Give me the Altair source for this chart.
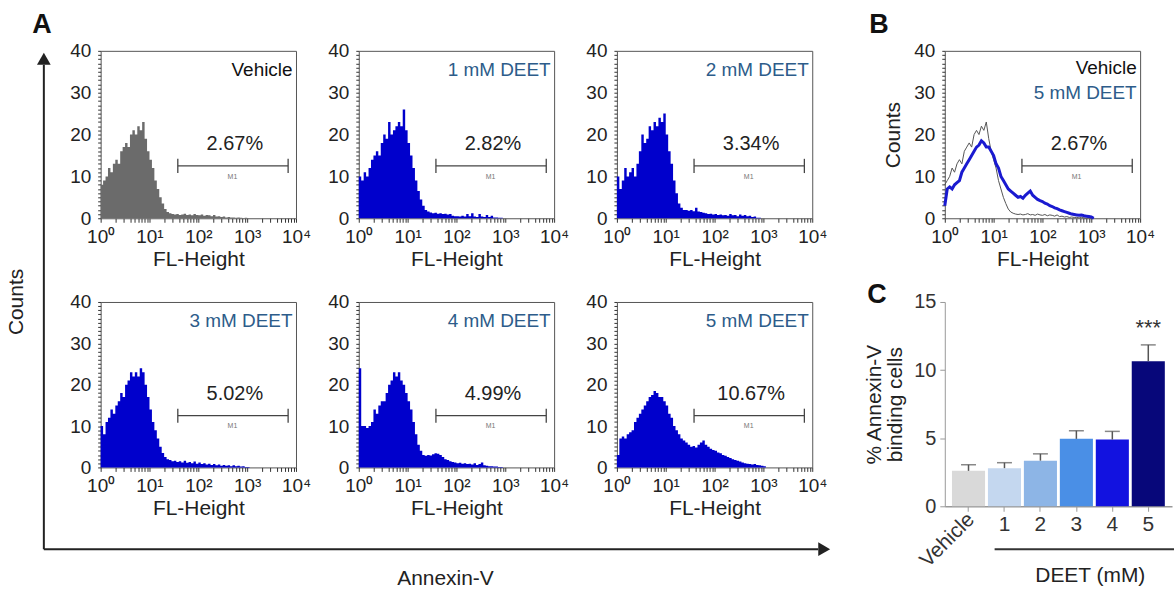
import altair as alt
import pandas as pd

FONT = "Liberation Sans"

# ---------------- data ----------------
# histogram bin positions (log10 of FL-Height), 0.05-decade bins
log_pos = [round(0.05 * i, 2) for i in range(62)]

veh = [8, 9, 10, 12, 11, 13, 14, 13, 16, 17,
       18, 17, 20, 21, 20, 22, 21, 23, 19, 16,
       14, 12, 9, 7, 5, 3.5, 2.2, 1.5, 1.2, 1.0,
       0.9, 1.0, 0.8, 0.9, 1.1, 0.8, 0.9, 0.7, 1.0, 0.8,
       0.7, 0.9, 0.6, 0.8, 0.7, 0.5, 0.8, 0.4, 0.5, 0.3,
       0.4, 0.2, 0.3, 0.2, 0.2, 0.1, 0.2, 0.1, 0, 0.1, 0, 0]
d1 = [10, 9, 11, 10, 12, 14, 15, 16, 15, 18,
      20, 19, 23, 20, 21, 22, 23, 22, 26, 21,
      18, 15, 12, 9, 6.5, 4.5, 3, 2, 1.6, 1.4,
      1.2, 1.3, 1.1, 1.2, 1.0, 1.1, 0.9, 1.0, 0.6, 0.5,
      0.5, 0.4, 0.6, 0.4, 1.0, 0.5, 1.2, 0.4, 0.3, 1.0,
      0.4, 0.3, 0.8, 0.3, 0.6, 0.2, 0.2, 0.1, 0.1, 0, 0, 0]
d2 = [10, 7, 9, 12, 10, 11, 12, 10, 13, 16,
      20, 18, 19, 22, 21, 23, 22, 24, 23, 25,
      20, 16, 13, 9, 6, 3.5, 2.5, 2, 2, 1.8,
      2, 1.7, 2.5, 1.6, 1.5, 1.3, 1.2, 1.0, 1.1, 0.9,
      1.0, 0.8, 0.9, 0.7, 0.8, 0.6, 1.0, 0.7, 0.8, 0.5,
      0.9, 0.6, 0.8, 0.5, 0.6, 0.3, 0.4, 0.1, 0.1, 0, 0, 0]
d3 = [10, 8, 11, 12, 14, 13, 15, 16, 18, 17,
      20, 21, 23, 22, 23, 22, 24, 23, 20, 17,
      14, 11, 9, 7, 5, 3.5, 2.5, 2, 1.8, 1.5,
      1.6, 1.3, 1.5, 1.2, 1.6, 1.1, 1.3, 1.0, 1.4, 0.9,
      1.2, 0.8, 1.0, 0.7, 0.9, 0.6, 0.8, 0.5, 0.7, 0.4,
      0.6, 0.4, 0.5, 0.3, 0.5, 0.3, 0.4, 0.2, 0.3, 0.1, 0.1, 0]
d4 = [24, 10, 10, 9.5, 10, 11, 14, 13, 15, 16,
      16, 18, 20, 21, 23, 22, 23, 21, 20, 18,
      16, 14, 11, 8, 5.5, 4, 3, 2.8, 3, 2.9,
      3.2, 3.4, 3.3, 3, 2.5, 2, 1.8, 1.5, 1.3, 1.2,
      1.0, 1.1, 0.9, 1.0, 0.8, 0.9, 0.7, 1.0, 0.6, 0.8,
      1.2, 0.5, 0.4, 0.3, 0.3, 0.2, 0.2, 0.1, 0.1, 0, 0, 0]
d5 = [3, 7, 7.5, 7, 8, 8.5, 9, 11, 12, 13,
      14, 15, 16, 17, 17.5, 18.5, 18, 17, 17, 16,
      15, 13, 12, 10, 9, 8, 7, 6.5, 6, 5.5,
      5, 5.2, 4.8, 5.5, 6, 6.5, 5.5, 5, 4.5, 4.2,
      4, 3.6, 3.4, 3, 2.8, 2.5, 2.3, 2, 1.8, 1.6,
      1.4, 1.2, 1.0, 0.9, 0.8, 0.7, 0.8, 0.6, 0.5, 0.4, 0.3, 0]

panel_labels = ["Vehicle", "1 mM DEET", "2 mM DEET", "3 mM DEET", "4 mM DEET", "5 mM DEET"]
panel_pcts = ["2.67%", "2.82%", "3.34%", "5.02%", "4.99%", "10.67%"]
b_pct = "2.67%"

bar_cats = ["Vehicle", "1", "2", "3", "4", "5"]
bar_means = [2.6, 2.8, 3.35, 4.95, 4.9, 10.65]
bar_errs = [0.45, 0.4, 0.5, 0.6, 0.6, 1.2]
bar_colors = ["#d9d9d9", "#c4d7ef", "#8db5e6", "#4a8fe6", "#1212e0", "#07077a"]

# gate marker (data coordinates)
GATE_LO, GATE_HI, GATE_Y = 38, 6900, 12.5
PCT_X, PCT_Y = 560, 17.8
LAB_X, LAB_Y = 8500, 35.5

GRAY = "#6b6b6b"
BLUE = "#0000cc"
LABBLUE = "#2d5c8a"

# ---------------- scales / axes ----------------
XT = [m * 10 ** e for e in range(4) for m in range(1, 10)] + [10000]
SUP = ("datum.value == 1 ? '10\u2070' : datum.value == 10 ? '10\u00b9' : "
       "datum.value == 100 ? '10\u00b2' : datum.value == 1000 ? '10\u00b3' : "
       "datum.value == 10000 ? '10\u2074' : ''")
xs = alt.Scale(type="log", domain=[1, 10000], nice=False)
ys = alt.Scale(domain=[0, 40], nice=False)

HW, HH1, HH2 = 196, 168, 166

XAX = alt.Axis(values=XT, labelExpr=SUP, title="FL-Height", labelFontSize=19,
               titleFontSize=21, tickSize=4, labelOverlap=False, labelFlush=False,
               grid=False, domain=False, titlePadding=2, labelPadding=5,
               tickColor="#333")
_ykw = dict(values=list(range(0, 41, 1)),
            labelExpr="datum.value % 10 == 0 ? datum.label : ''",
            tickSize=3, domain=False, grid=False, labelFontSize=19,
            labelOverlap=False, labelPadding=7, tickColor="#333")
YAX = alt.Axis(title=None, **_ykw)
YAX_B = alt.Axis(title="Counts", titleFontSize=21, titlePadding=10, **_ykw)


def one(**kw):
    return pd.DataFrame({k: [v] for k, v in kw.items()})


def gate_layers(pct, yax):
    rule = alt.Chart(one(x=GATE_LO, x2=GATE_HI, y=GATE_Y)).mark_rule(
        color="#444", strokeWidth=1.3).encode(
        x=alt.X("x:Q", scale=xs, axis=XAX), x2="x2:Q",
        y=alt.Y("y:Q", scale=ys, axis=yax))
    edf = pd.DataFrame({"x": [GATE_LO, GATE_HI], "y": [GATE_Y - 1.7] * 2,
                        "y2": [GATE_Y + 1.7] * 2})
    ends = alt.Chart(edf).mark_rule(color="#444", strokeWidth=1.3).encode(
        x=alt.X("x:Q", scale=xs, axis=XAX),
        y=alt.Y("y:Q", scale=ys, axis=yax), y2="y2:Q")
    m1 = alt.Chart(one(x=500, y=GATE_Y - 2.6, t="M1")).mark_text(
        fontSize=7, color="#777").encode(
        x=alt.X("x:Q", scale=xs, axis=XAX), y=alt.Y("y:Q", scale=ys, axis=yax),
        text="t:N")
    pt = alt.Chart(one(x=PCT_X, y=PCT_Y, t=pct)).mark_text(
        fontSize=20, color="#222").encode(
        x=alt.X("x:Q", scale=xs, axis=XAX), y=alt.Y("y:Q", scale=ys, axis=yax),
        text="t:N")
    return [rule, ends, m1, pt]


def label_layer(text, color, y, yax):
    return alt.Chart(one(x=LAB_X, y=y, t=text)).mark_text(
        fontSize=19, color=color, align="right").encode(
        x=alt.X("x:Q", scale=xs, axis=XAX), y=alt.Y("y:Q", scale=ys, axis=yax),
        text="t:N")


def hist_panel(counts, fill, label, lab_color, pct, height, extra=()):
    df = pd.DataFrame({"x": [10 ** t for t in log_pos], "y": counts})
    area = alt.Chart(df).mark_area(color=fill, interpolate="step-after").encode(
        x=alt.X("x:Q", scale=xs, axis=XAX),
        y=alt.Y("y:Q", scale=ys, axis=YAX))
    layers = [area] + gate_layers(pct, YAX) + [label_layer(label, lab_color, LAB_Y, YAX)] + list(extra)
    return alt.layer(*layers).properties(
        width=HW, height=height, view=alt.ViewBackground(stroke="#555", strokeWidth=1))


def pix_text(text, x, y, **kw):
    return alt.Chart(one(t=text)).mark_text(**kw).encode(
        x=alt.value(x), y=alt.value(y), text="t:N")


# panel letters and the big axes of panel A
letter_a = pix_text("A", -59, -26, fontSize=27, fontWeight="bold", color="#111")
arrow_v = alt.Chart(one(a=0)).mark_rule(color="#222", strokeWidth=2).encode(
    x=alt.value(-57), y=alt.value(-238), y2=alt.value(248))
arrow_v_head = alt.Chart(one(a=0)).mark_point(
    shape="triangle-up", filled=True, size=190, color="#222", opacity=1).encode(
    x=alt.value(-57), y=alt.value(-244))
arrow_h = alt.Chart(one(a=0)).mark_rule(color="#222", strokeWidth=2).encode(
    x=alt.value(-57), x2=alt.value(720), y=alt.value(248))
arrow_h_head = alt.Chart(one(a=0)).mark_point(
    shape="triangle-right", filled=True, size=190, color="#222", opacity=1).encode(
    x=alt.value(726), y=alt.value(248))
counts_t = pix_text("Counts", -84, 0, fontSize=21, angle=270, color="#222")
annex_t = pix_text("Annexin-V", 346, 278, fontSize=21, color="#222")

a1 = hist_panel(veh, GRAY, panel_labels[0], "#111", panel_pcts[0], HH1, [letter_a])
a2 = hist_panel(d1, BLUE, panel_labels[1], LABBLUE, panel_pcts[1], HH1)
a3 = hist_panel(d2, BLUE, panel_labels[2], LABBLUE, panel_pcts[2], HH1)
a4 = hist_panel(d3, BLUE, panel_labels[3], LABBLUE, panel_pcts[3], HH2,
                [arrow_v, arrow_v_head, arrow_h, arrow_h_head, counts_t, annex_t])
a5 = hist_panel(d4, BLUE, panel_labels[4], LABBLUE, panel_pcts[4], HH2)
a6 = hist_panel(d5, BLUE, panel_labels[5], LABBLUE, panel_pcts[5], HH2)

# ---------------- panel B ----------------
xvals = [10 ** t for t in log_pos]
bveh = alt.Chart(pd.DataFrame({"x": xvals, "y": veh})).mark_line(
    color="#555", strokeWidth=1).encode(
    x=alt.X("x:Q", scale=xs, axis=XAX),
    y=alt.Y("y:Q", scale=ys, axis=YAX_B))
bd5 = alt.Chart(pd.DataFrame({"x": xvals, "y": d5})).mark_line(
    color="#1a1ad0", strokeWidth=3).encode(
    x=alt.X("x:Q", scale=xs, axis=XAX), y=alt.Y("y:Q", scale=ys, axis=YAX_B))
letter_b = pix_text("B", -66, -26, fontSize=27, fontWeight="bold", color="#111")
b = alt.layer(bveh, bd5, *gate_layers(b_pct, YAX_B),
              label_layer("Vehicle", "#111", 36.0, YAX_B),
              label_layer("5 mM DEET", LABBLUE, 30.0, YAX_B),
              letter_b).properties(
    width=HW, height=HH1, view=alt.ViewBackground(stroke="#555", strokeWidth=1))

# ---------------- panel C ----------------
CW, CH = 228, 205
cdf = pd.DataFrame({"cat": bar_cats, "m": bar_means,
                    "top": [m + e for m, e in zip(bar_means, bar_errs)]})
cx = alt.Scale(domain=bar_cats, paddingInner=0.08, paddingOuter=0.2)
cy = alt.Scale(domain=[0, 15], nice=False)
CXAX = alt.Axis(labels=False, title=None, ticks=True, tickSize=5,
                domainColor="#999", tickColor="#999", domainWidth=1.5)
CYAX = alt.Axis(values=[0, 5, 10, 15], title=["% Annexin-V", "binding cells"],
                titleFontSize=21, labelFontSize=20, grid=False,
                domainColor="#999", tickColor="#999", tickSize=5,
                labelColor="#333", titleColor="#222", titlePadding=8,
                labelPadding=4, titleLineHeight=21)
CX = lambda: alt.X("cat:N", sort=bar_cats, scale=cx, axis=CXAX)
bars = alt.Chart(cdf).mark_bar().encode(
    x=CX(),
    y=alt.Y("m:Q", scale=cy, axis=CYAX),
    color=alt.Color("cat:N", scale=alt.Scale(domain=bar_cats, range=bar_colors), legend=None))
errs = alt.Chart(cdf).mark_rule(color="#555", strokeWidth=1.5).encode(
    x=CX(), y=alt.Y("m:Q", scale=cy, axis=CYAX), y2="top:Q")
caps = alt.Chart(cdf).mark_tick(color="#555", thickness=1.5, size=15).encode(
    x=CX(), y=alt.Y("top:Q", scale=cy, axis=CYAX))
stars = alt.Chart(one(cat="5", y=12.6, t="***")).mark_text(
    fontSize=22, color="#333", baseline="alphabetic").encode(
    x=CX(), y=alt.Y("y:Q", scale=cy, axis=CYAX), text="t:N")
veh_lab = alt.Chart(cdf[cdf.cat == "Vehicle"]).mark_text(
    fontSize=21, color="#333", align="right", baseline="middle", angle=315, dx=4).encode(
    x=CX(), y=alt.value(CH + 13), text="cat:N")
num_lab = alt.Chart(cdf[cdf.cat != "Vehicle"]).mark_text(
    fontSize=21, color="#333", align="center", baseline="middle").encode(
    x=CX(), y=alt.value(CH + 19), text="cat:N")
underline = alt.Chart(one(a=0)).mark_rule(color="#333", strokeWidth=2).encode(
    x=alt.value(50), x2=alt.value(CW + 2), y=alt.value(CH + 43))
deet_t = pix_text("DEET (mM)", 146, CH + 70, fontSize=21, color="#222")
letter_c = pix_text("C", -68, -7, fontSize=27, fontWeight="bold", color="#111")
c = alt.layer(bars, errs, caps, stars, veh_lab, num_lab, underline, deet_t,
              letter_c).properties(width=CW, height=CH)

# spacers
sp1 = alt.Chart(one(a=0)).mark_text(text="").encode(
    x=alt.value(0), y=alt.value(0)).properties(width=7, height=HH1)
sp2 = alt.Chart(one(a=0)).mark_text(text="").encode(
    x=alt.value(0), y=alt.value(0)).properties(width=7, height=HH2)

chart = alt.concat(
    a1, a2, a3, sp1, b,
    a4, a5, a6, sp2, c,
    columns=5, spacing={"row": 84, "column": 63}, bounds="flush",
).properties(
    padding={"left": 5, "top": 9, "right": 0, "bottom": 0},
    background="white",
).configure_view(
    stroke="transparent"
).configure_axis(
    labelFont=FONT, titleFont=FONT, labelColor="#222", titleColor="#222",
    titleFontWeight="normal"
).configure_text(font=FONT)

chart.save("out.html", embed_options={"renderer": "svg", "actions": False})
